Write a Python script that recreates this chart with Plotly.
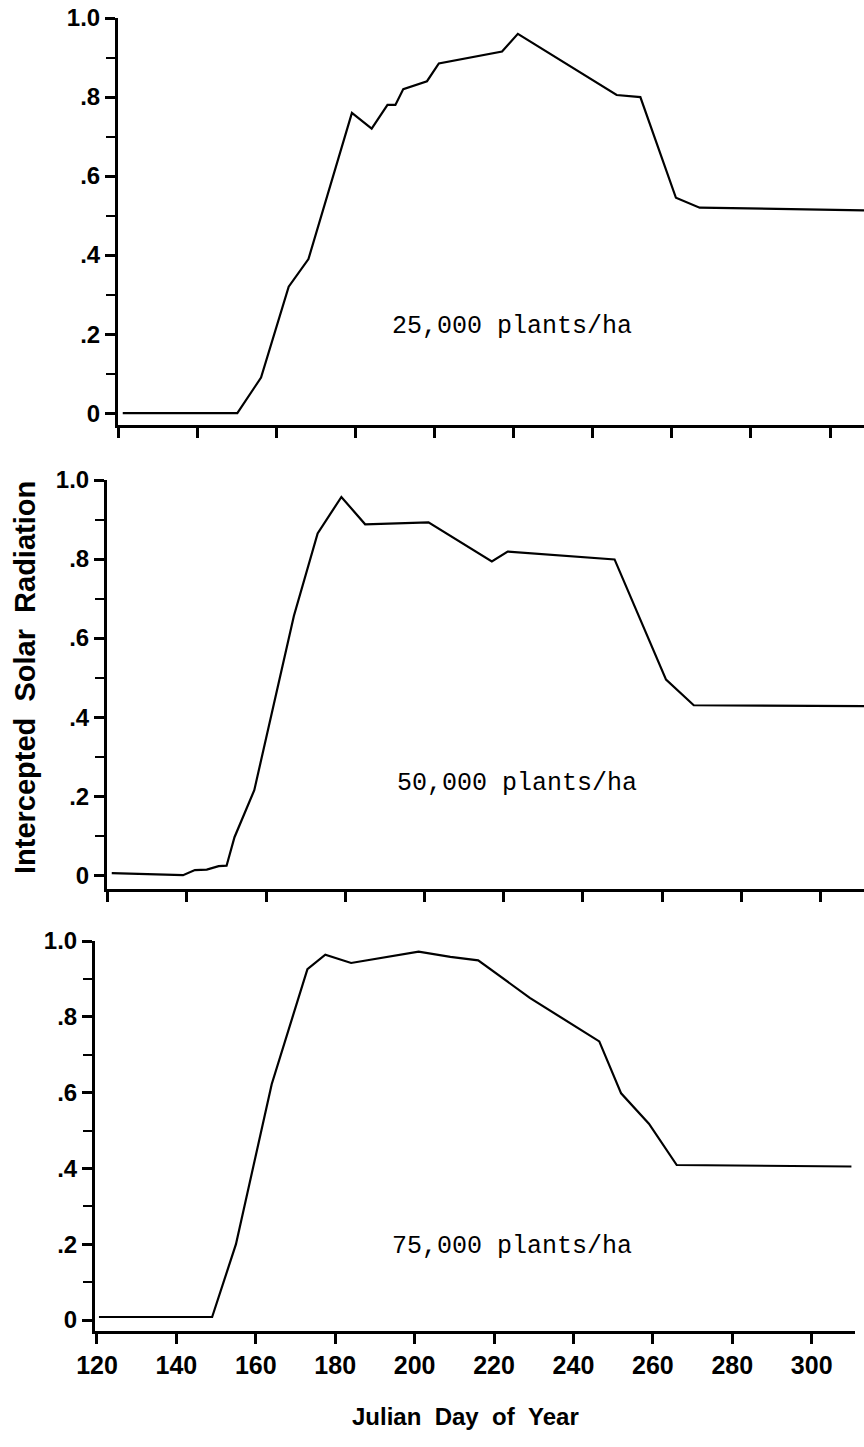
import plotly.graph_objects as go

# ---------------- data (Julian day, fraction of intercepted solar radiation) ----------------
days_25k = [121, 150, 156, 163, 168, 179, 184, 188, 190, 192, 198, 201, 217, 221, 246, 252, 261, 267, 310]
irr_25k = [0.0, 0.0, 0.09, 0.32, 0.39, 0.76, 0.72, 0.78, 0.78, 0.82, 0.84, 0.885, 0.915, 0.96, 0.805, 0.80, 0.545, 0.52, 0.513]

days_50k = [121, 139, 142, 145, 148, 150, 152, 157, 167, 173, 179, 185, 201, 217, 221, 248, 261, 268, 311]
irr_50k = [0.005, 0.0, 0.013, 0.014, 0.023, 0.024, 0.096, 0.215, 0.656, 0.865, 0.957, 0.888, 0.893, 0.794, 0.819, 0.799, 0.495, 0.43, 0.428]

days_75k = [120.5, 149, 155, 164, 173, 177.5, 184, 201, 209, 216, 229, 246.5, 252, 259, 266, 310]
irr_75k = [0.008, 0.008, 0.20, 0.622, 0.926, 0.964, 0.942, 0.972, 0.958, 0.949, 0.85, 0.735, 0.598, 0.518, 0.409, 0.405]

panel_labels = ["25,000 plants/ha", "50,000 plants/ha", "75,000 plants/ha"]
x_ticks = [120, 140, 160, 180, 200, 220, 240, 260, 280, 300]
y_ticks = [0, 0.2, 0.4, 0.6, 0.8, 1.0]
y_ticktext = ["0", ".2", ".4", ".6", ".8", "1.0"]
y_minor = [0.1, 0.3, 0.5, 0.7, 0.9]
x_title = "Julian Day of Year"
y_title = "Intercepted Solar Radiation"

# ---------------- layout helpers ----------------
W, H = 864, 1447


def fx(p):
    return p / W


def fy(p):
    return 1 - p / H


SANS = "Liberation Sans, Arial, sans-serif"
YTICKFONT = dict(family=SANS, size=24, color="black", weight="bold")
XTICKFONT = dict(family=SANS, size=25, color="black", weight="bold")

fig = go.Figure()
series = [(days_25k, irr_25k), (days_50k, irr_50k), (days_75k, irr_75k)]
for i, (d, v) in enumerate(series):
    sfx = "" if i == 0 else str(i + 1)
    fig.add_trace(go.Scatter(x=d, y=v, mode="lines", line=dict(color="black", width=2.2),
                             xaxis="x" + sfx, yaxis="y" + sfx, hoverinfo="skip"))

# panel geometry in pixels: (left, right, bottom, top, xrange, yrange)
panels = [
    dict(l=118, r=864, b=425, t=18, xr=[119.8, 308.6], yr=[-0.030, 1.0]),
    dict(l=107, r=864, b=889, t=480, xr=[119.8, 311.0], yr=[-0.035, 1.0]),
    dict(l=95, r=855, b=1331, t=941, xr=[119.5, 310.9], yr=[-0.029, 1.0]),
]

layout = dict(
    width=W, height=H,
    margin=dict(l=0, r=0, t=0, b=0),
    paper_bgcolor="white", plot_bgcolor="white",
    showlegend=False,
)

for i, p in enumerate(panels):
    sfx = "" if i == 0 else str(i + 1)
    last = (i == 2)
    layout["xaxis" + sfx] = dict(
        domain=[fx(p["l"]), fx(p["r"])], anchor="y" + sfx, range=p["xr"],
        tickmode="array", tickvals=x_ticks, ticktext=[str(t) for t in x_ticks],
        showticklabels=last, ticks="outside", ticklen=10, tickwidth=2.5, tickcolor="black",
        showline=True, linewidth=3, linecolor="black", showgrid=False, zeroline=False,
        tickfont=XTICKFONT, ticklabelstandoff=0, automargin=False, fixedrange=True,
    )
    layout["yaxis" + sfx] = dict(
        domain=[fy(p["b"]), fy(p["t"])], anchor="x" + sfx, range=p["yr"],
        tickmode="array", tickvals=y_ticks, ticktext=y_ticktext,
        ticks="outside", ticklen=10, tickwidth=2.5, tickcolor="black",
        minor=dict(tickvals=y_minor, ticks="outside", ticklen=9, tickwidth=2.2, tickcolor="black", showgrid=False),
        showline=True, linewidth=3, linecolor="black", showgrid=False, zeroline=False,
        tickfont=YTICKFONT, automargin=False, fixedrange=True,
    )

fig.update_layout(**layout)

# panel labels (monospace, typewriter style)
label_pos = [(512, 327), (517, 783), (512, 1246)]
for txt, (cx, cy) in zip(panel_labels, label_pos):
    fig.add_annotation(text=txt, x=fx(cx), y=fy(cy), xref="paper", yref="paper",
                       showarrow=False, xanchor="center", yanchor="middle",
                       font=dict(family="Liberation Mono, Courier New, monospace", size=25, color="black"))

# axis titles (wide word spacing as in the original)
NB = "\u00a0"
y_title_txt = (NB * 2).join(y_title.split(" "))
x_title_txt = (NB * 2).join(x_title.split(" "))
fig.add_annotation(text=y_title_txt, x=fx(25), y=fy(678), xref="paper", yref="paper",
                   showarrow=False, textangle=-90, xanchor="center", yanchor="middle",
                   font=dict(family=SANS, size=29, color="black", weight="bold"))
fig.add_annotation(text=x_title_txt, x=fx(465), y=fy(1416), xref="paper", yref="paper",
                   showarrow=False, xanchor="center", yanchor="middle",
                   font=dict(family=SANS, size=24, color="black", weight="bold"))

fig.write_html("out.html", config={"displayModeBar": False})
